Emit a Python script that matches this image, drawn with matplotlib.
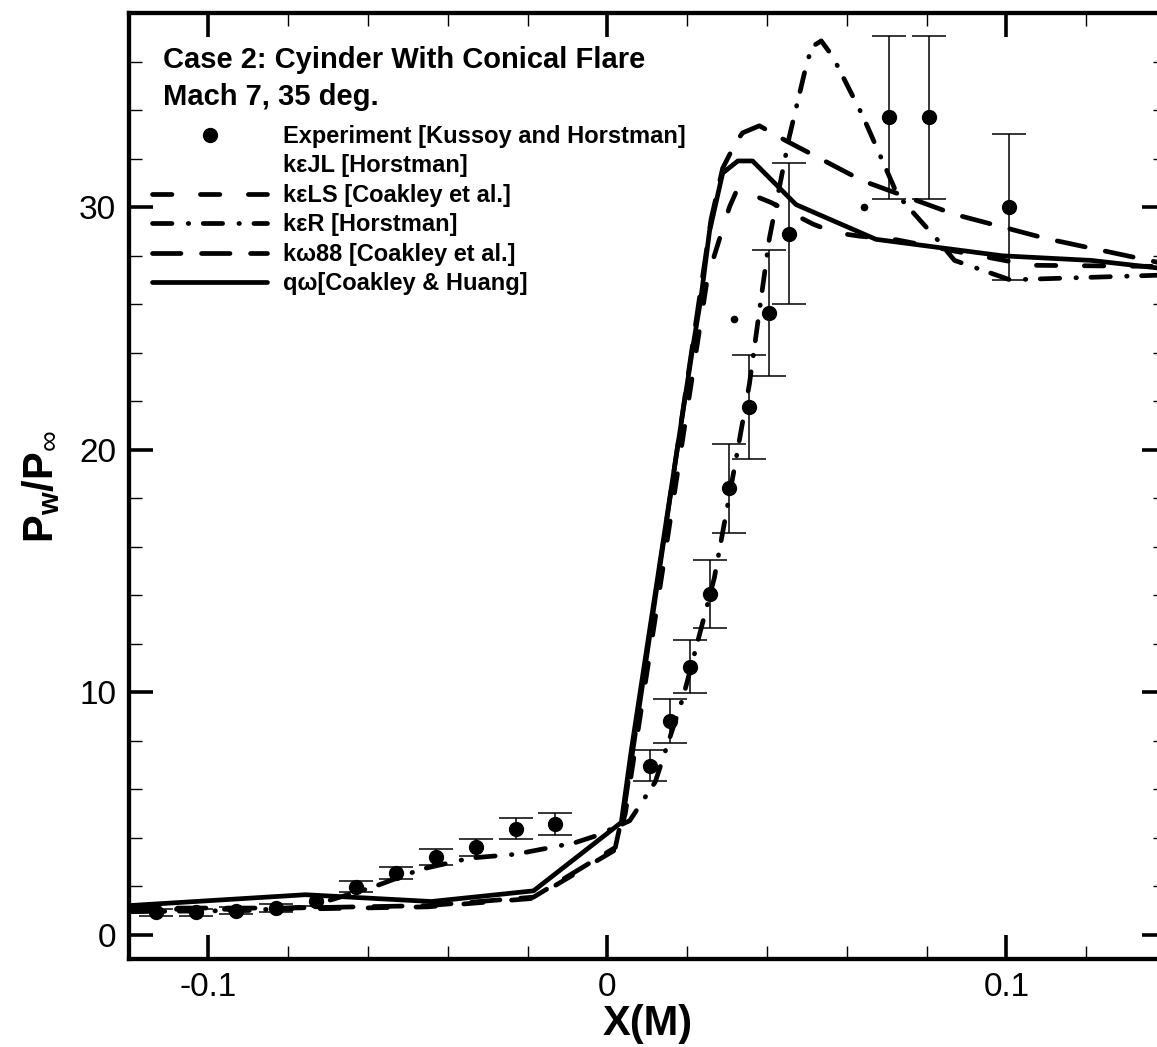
import matplotlib
matplotlib.use("Agg")
import matplotlib.pyplot as plt
from matplotlib.lines import Line2D
from matplotlib.ticker import MultipleLocator

plt.rcParams['font.family'] = ['Liberation Sans', 'DejaVu Sans']
plt.rcParams['mathtext.fontset'] = 'custom'
plt.rcParams['mathtext.rm'] = 'Liberation Sans'
plt.rcParams['mathtext.bf'] = 'Liberation Sans:bold'
plt.rcParams['lines.scale_dashes'] = False

# experiment [Kussoy and Horstman]
exp_x = [-0.113, -0.103, -0.093, -0.083, -0.073, -0.063, -0.053, -0.043, -0.033, -0.023, -0.013,
         0.0108, 0.0157, 0.0207, 0.0256, 0.0306, 0.0356, 0.0406, 0.0456, 0.0707, 0.0806, 0.1006]
exp_y = [0.92, 0.92, 0.99, 1.1, 1.4, 1.98, 2.53, 3.21, 3.6, 4.38, 4.56,
         6.97, 8.8, 11.05, 14.04, 18.4, 21.76, 25.65, 28.9, 33.7, 33.7, 30.0]
exp_err = [0.15, 0.15, 0.15, 0.15, 0.2, 0.22, 0.25, 0.32, 0.36, 0.45, 0.46,
           0.65, 0.9, 1.1, 1.4, 1.85, 2.15, 2.6, 2.9, 3.35, 3.35, 3.0]

# k-eps JL [Horstman]: only a few sparse dots of this curve are visible
jl_x = [0.0318, 0.0644]
jl_y = [25.4, 30.0]

# k-eps LS [Coakley et al.]
ls_x = [-0.12, -0.08, -0.045, -0.0185, 0.002, 0.0045, 0.0251, 0.0306, 0.0326, 0.041, 0.0515,
        0.0569, 0.0632, 0.0725, 0.0865, 0.106, 0.14]
ls_y = [1.05, 1.05, 1.15, 1.5, 3.5, 5.0, 27.1, 30.0, 30.75, 30.19, 29.3,
        28.95, 28.8, 28.65, 28.2, 27.6, 27.55]

# k-eps R [Horstman]
r_x = [-0.12, -0.09, -0.075, -0.059, -0.0467, -0.0344, -0.0229, -0.0141, -0.008, -0.0028, 0.0056,
       0.012, 0.019, 0.0268, 0.0318, 0.0356, 0.0385, 0.0406, 0.0456, 0.0495, 0.0512, 0.0536,
       0.0565, 0.064, 0.0727, 0.083, 0.087, 0.1009, 0.14]
r_y = [0.95, 1.0, 1.15, 1.95, 2.7, 3.16, 3.32, 3.6, 3.8, 4.08, 4.7,
       6.3, 9.8, 14.7, 19.2, 22.7, 26.2, 28.7, 32.9, 35.6, 36.6, 36.85,
       36.2, 33.76, 30.5, 28.6, 27.8, 27.0, 27.2]

# k-omega 88 [Coakley et al.]
w88_x = [-0.12, -0.08, -0.045, -0.0185, 0.002, 0.0045, 0.026, 0.0289, 0.0323, 0.0339, 0.0381,
         0.0448, 0.064, 0.087, 0.11, 0.14]
w88_y = [1.1, 1.1, 1.2, 1.55, 3.6, 5.5, 29.5, 31.6, 32.7, 33.06, 33.35,
         32.73, 31.08, 29.7, 28.7, 27.65]

# q-omega [Coakley & Huang]
qw_x = [-0.12, -0.0757, -0.0441, -0.0185, 0.0035, 0.006, 0.0213, 0.0235, 0.0256, 0.0289, 0.0327,
        0.0364, 0.0473, 0.0673, 0.099, 0.1213, 0.14]
qw_y = [1.2, 1.65, 1.37, 1.81, 4.63, 7.6, 24.1, 26.3, 29.0, 31.4, 31.9,
        31.9, 30.1, 28.67, 27.99, 27.8, 27.45]

W, H = 1157, 1047
fig = plt.figure(figsize=(W / 100, H / 100), dpi=100)
ax = fig.add_axes([128.5 / W, 88 / H, (1166 - 128.5) / W, (1034 - 88) / H])

lw = 3.4
ax.errorbar(exp_x, exp_y, yerr=exp_err, fmt='none', ecolor='black', elinewidth=1.1,
            capsize=12, capthick=1.1, zorder=2)
ax.plot(jl_x, jl_y, 'o', color='black', markersize=4.5, zorder=3)
ls_line, = ax.plot(ls_x, ls_y, color='black', lw=lw, linestyle=(0, (14, 20.5)),
                   dash_capstyle='round', zorder=3)
r_line, = ax.plot(r_x, r_y, color='black', lw=lw, linestyle=(0, (14, 11.7, 0.4, 10.4)),
                  dash_capstyle='round', zorder=3)
w88_line, = ax.plot(w88_x, w88_y, color='black', lw=lw, linestyle=(0, (20.5, 14.8)),
                    dash_capstyle='round', zorder=3)
qw_line, = ax.plot(qw_x, qw_y, color='black', lw=lw, linestyle='-',
                   solid_capstyle='round', zorder=3)
exp_pts, = ax.plot(exp_x, exp_y, 'o', color='black', markersize=10, zorder=4)

ax.set_xlim(-0.12, 0.14)
ax.set_ylim(-1, 38)
ax.xaxis.set_minor_locator(MultipleLocator(0.02))
ax.yaxis.set_major_locator(MultipleLocator(10))
ax.yaxis.set_minor_locator(MultipleLocator(2))
ax.set_xticks([-0.1, 0, 0.1])
ax.set_xticklabels(['-0.1', '0', '0.1'])
ax.tick_params(which='both', direction='in', top=True, right=True, labelsize=24)
ax.tick_params(which='major', length=17.5, width=2.6, pad=9)
ax.tick_params(which='minor', length=9.5, width=1.0)
for sp in ax.spines.values():
    sp.set_linewidth(3.1)

ax.set_xlabel('X(M)', fontsize=30, fontweight='bold', labelpad=1)
ax.set_ylabel(r'$\mathbf{P_w/P}_{\infty}$', fontsize=30, labelpad=12)

ax.text(0.0333, 0.942, 'Case 2: Cyinder With Conical Flare', transform=ax.transAxes,
        fontsize=21, fontweight='bold', va='baseline')
ax.text(0.0333, 0.9027, 'Mach 7, 35 deg.', transform=ax.transAxes,
        fontsize=21, fontweight='bold', va='baseline')

jl_handle = Line2D([], [], linestyle='none')
ax.legend([exp_pts, jl_handle, ls_line, r_line, w88_line, qw_line],
          ['Experiment [Kussoy and Horstman]', 'kεJL [Horstman]', 'kεLS [Coakley et al.]',
           'kεR [Horstman]', 'kω88 [Coakley et al.]', 'qω[Coakley & Huang]'],
          loc='upper left', bbox_to_anchor=(0.0227, 0.8816), frameon=False,
          borderpad=0, borderaxespad=0, handlelength=4.87, handletextpad=0.68,
          labelspacing=0.275, numpoints=1, prop={'weight': 'bold', 'size': 17})

fig.savefig('out.png', dpi=100)
